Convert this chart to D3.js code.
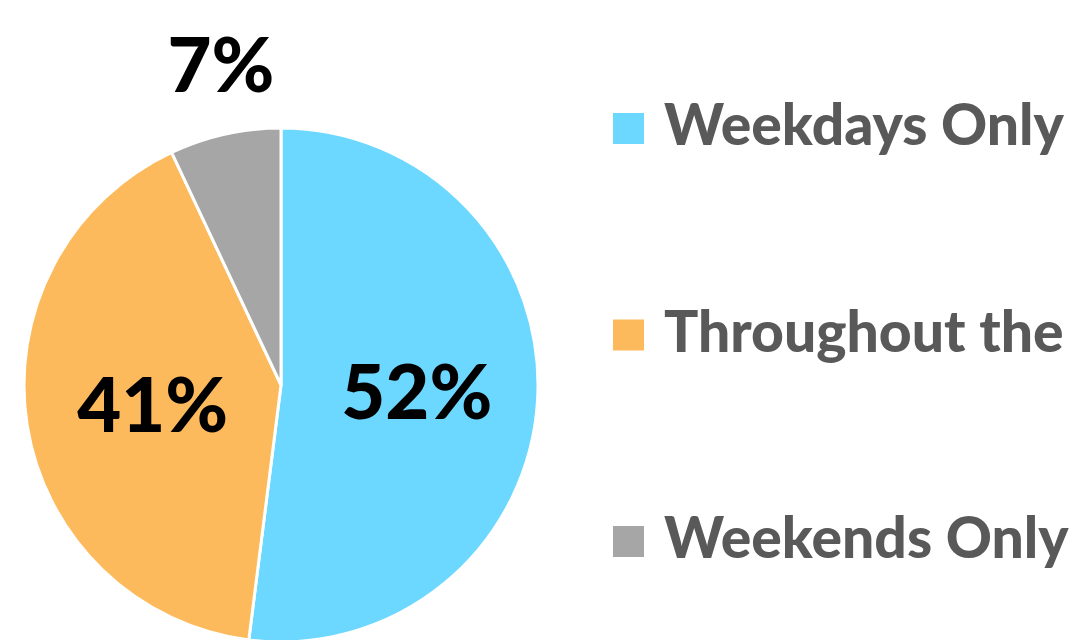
<!DOCTYPE html>
<html>
<head>
<meta charset="utf-8">
<script src="https://cdn.jsdelivr.net/npm/d3@7"></script>
<style>
  body { margin: 0; background: white; }
  svg { display: block; }
</style>
</head>
<body>
<div id="chart"></div>
<script>
// data (third label is cut at "Throughout the" in the original)
const categories = ["Weekdays Only", "Throughout the", "Weekends Only"];
const shares = [52, 41, 7];
const colors = ["#6dd8ff", "#fdba5c", "#a6a6a6"];

const width = 1088, height = 640;
const cx = 281, cy = 385, radius = 257;

const svg = d3.select("#chart").append("svg")
    .attr("width", width)
    .attr("height", height);

const pie = d3.pie().sort(null).value(d => d);
const arcs = pie(shares);

const arc = d3.arc().innerRadius(0).outerRadius(radius);
const inLabel = d3.arc().innerRadius(133).outerRadius(133);
const outLabel = d3.arc().innerRadius(radius + 18).outerRadius(radius + 18);

const g = svg.append("g").attr("transform", `translate(${cx},${cy})`);

g.selectAll("path")
    .data(arcs)
    .enter()
    .append("path")
    .attr("d", arc)
    .attr("fill", (d, i) => colors[i])
    .attr("stroke", "white")
    .attr("stroke-width", 3)
    .attr("stroke-linejoin", "round");

g.selectAll("text.pct")
    .data(arcs)
    .enter()
    .append("text")
    .attr("class", "pct")
    .attr("transform", d => {
        if (d.data < 10) {
            const [x, y] = outLabel.centroid(d);
            return `translate(${x},${y - 25})`;
        }
        const [x, y] = inLabel.centroid(d);
        return `translate(${x + 3},${y + 26})`;
    })
    .attr("text-anchor", "middle")
    .style("font-family", "Lato, 'Open Sans', sans-serif")
    .style("font-weight", "900")
    .style("font-size", "76px")
    .attr("fill", "black")
    .text(d => d.data + "%");

const legendY = d3.scalePoint()
    .domain(categories)
    .range([129, 542]);

const legend = svg.append("g").attr("id", "legend");
const items = legend.selectAll("g")
    .data(categories)
    .enter()
    .append("g")
    .attr("transform", d => `translate(613,${legendY(d)})`);

items.append("rect")
    .attr("x", 0)
    .attr("y", -16)
    .attr("width", 31)
    .attr("height", 31)
    .attr("fill", (d, i) => colors[i]);

items.append("text")
    .attr("x", 51)
    .attr("y", 16)
    .style("font-family", "Lato, 'Open Sans', sans-serif")
    .style("font-weight", "900")
    .style("font-size", "57px")
    .attr("fill", "#595959")
    .text(d => d);
</script>
</body>
</html>
